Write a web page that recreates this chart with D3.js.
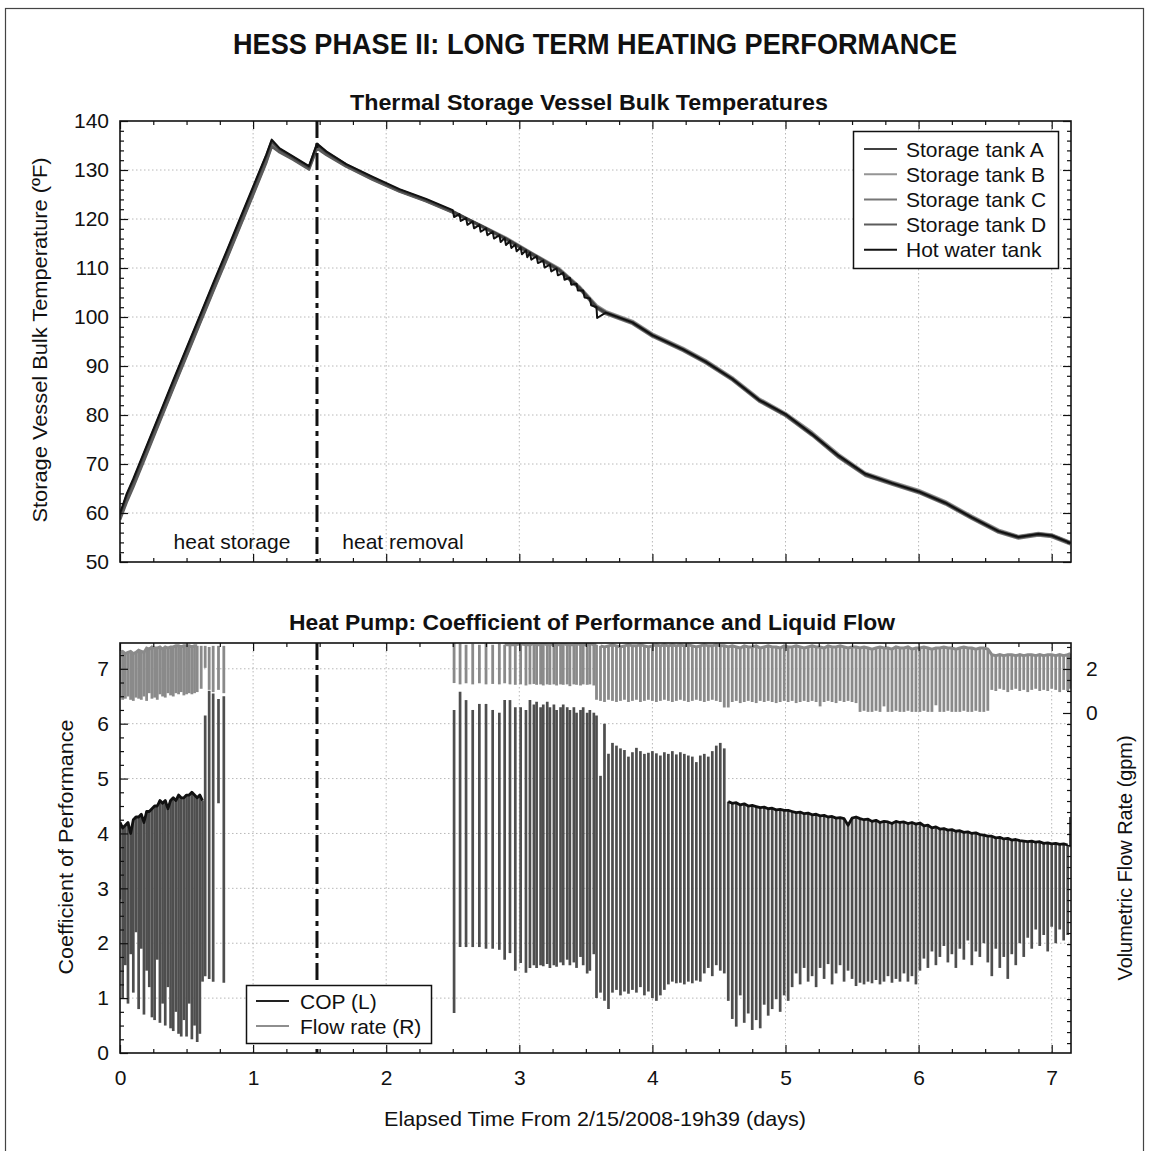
<!DOCTYPE html>
<html>
<head>
<meta charset="utf-8">
<script src="https://cdn.jsdelivr.net/npm/d3@7"></script>
<style>
  body { margin: 0; background: #fff; }
  svg { display: block; font-family: "Liberation Sans", Arial, sans-serif; }
  .tick text { font-size: 21px; fill: #111; }
  .tick line { stroke: #111; stroke-width: 1.2; }
</style>
</head>
<body>
<div id="chart"></div>
<script>
// ---- top panel: storage vessel temperatures (degF) ----
const tempT = [0,0.05,0.1,0.2,0.3,0.4,0.5,0.6,0.7,0.8,
  0.9,1.0,1.1,1.14,1.2,1.3,1.42,1.48,1.55,1.7,
  1.9,2.1,2.3,2.5,2.7,2.9,3.1,3.3,3.45,3.58,
  3.65,3.85,4.0,4.23,4.4,4.6,4.8,5.0,5.2,5.4,
  5.6,5.8,6.0,6.2,6.4,6.6,6.75,6.9,7.0,7.14];
const tankA = [59.6,63.5,66.6,73.3,80.0,86.7,93.3,99.9,106.5,113.0,
  119.6,126.2,132.9,135.9,134.2,132.6,130.6,135.2,133.6,131.1,
  128.4,125.9,123.9,121.6,118.8,116.0,112.8,109.6,106.0,102.0,
  100.8,98.8,96.2,93.3,90.8,87.3,83.0,80.0,76.0,71.5,
  67.8,66.0,64.3,62.0,59.0,56.2,55.0,55.6,55.3,53.8];
const tankB = [58.9,62.6,65.7,72.3,79.0,85.6,92.2,98.8,105.4,111.9,
  118.5,125.1,131.8,135.0,133.8,132.3,130.3,134.6,133.3,130.8,
  128.1,125.7,123.7,121.4,118.9,116.2,113.0,109.9,106.3,102.4,
  101.2,99.2,96.6,93.7,91.2,87.7,83.4,80.4,76.5,72.0,
  68.2,66.4,64.7,62.4,59.4,56.6,55.3,55.9,55.6,54.1];
const tankC = [59.2,63.0,66.1,72.8,79.5,86.2,92.8,99.4,106.0,112.5,
  119.1,125.7,132.4,135.5,133.9,132.4,130.4,134.9,133.4,130.9,
  128.2,125.7,123.7,121.4,118.6,115.8,112.6,109.4,105.8,101.8,
  100.6,98.6,96.0,93.1,90.6,87.1,82.8,79.8,75.8,71.3,
  67.6,65.8,64.1,61.8,58.8,56.0,54.8,55.4,55.1,53.6];
const tankD = [58.6,62.2,65.3,72.0,78.7,85.4,92.0,98.6,105.2,111.7,
  118.3,124.9,131.6,134.8,133.6,132.1,130.1,134.4,133.1,130.7,
  128.0,125.6,123.6,121.3,118.8,116.0,112.9,109.7,106.1,102.1,
  101.0,99.0,96.4,93.5,91.0,87.5,83.2,80.2,76.2,71.7,
  68.0,66.2,64.5,62.2,59.2,56.4,55.2,55.8,55.5,54.0];
const hotT = [0,0.05,0.1,0.2,0.3,0.4,0.5,0.6,0.7,0.8,
  0.9,1.0,1.1,1.14,1.2,1.3,1.42,1.48,1.55,1.7,1.9,2.1,2.3,
  2.50,2.51,2.55,2.56,2.60,2.61,2.65,2.66,2.70,2.71,2.75,2.76,2.80,2.81,2.85,2.86,
  2.89,2.90,2.93,2.94,2.97,2.98,3.01,3.02,3.05,3.06,3.08,3.09,3.13,3.14,3.18,3.19,
  3.23,3.24,3.28,3.29,3.33,3.34,3.38,3.39,3.43,3.44,3.48,3.49,3.53,3.54,3.58,3.585,3.65,
  3.85,4.0,4.23,4.4,4.6,4.8,5.0,5.2,5.4,5.6,
  5.8,6.0,6.2,6.4,6.6,6.75,6.9,7.0,7.14];
const hotV = [59.9,63.9,67.0,73.7,80.4,87.1,93.7,100.3,106.9,113.4,
  120.0,126.6,133.2,136.2,134.4,132.8,130.8,135.4,133.8,131.2,128.6,126.1,124.1,
  121.8,120.4,121.0,119.6,120.2,118.8,119.5,118.1,118.8,117.4,118.1,116.7,117.4,116.0,116.7,115.3,
  116.1,114.7,115.5,114.1,114.8,113.4,114.2,112.8,113.6,112.2,113.1,111.7,112.4,111.0,111.5,110.1,
  110.7,109.3,109.9,108.5,109.0,107.6,108.0,106.6,106.8,105.4,105.4,104.0,103.8,102.4,102.0,99.8,100.9,
  98.9,96.3,93.4,90.9,87.4,83.1,80.2,76.1,71.7,68.0,
  66.1,64.4,62.1,59.1,56.3,55.1,55.7,55.4,53.9];
const tankNames = ["Storage tank A", "Storage tank B", "Storage tank C", "Storage tank D", "Hot water tank"];
const phaseSwitch = 1.48;

// ---- bottom panel: heat pump COP (left) and flow rate (right), per on-cycle ----
const copAT = [0.00,0.02,0.04,0.06,0.08,0.10,0.12,0.14,0.16,0.18,
  0.20,0.22,0.24,0.26,0.28,0.30,0.32,0.34,0.36,0.38,
  0.40,0.42,0.44,0.46,0.48,0.50,0.52,0.54,0.56,0.58,
  0.60,0.62,0.64,0.67,0.70,0.74,0.78];
const copAHi = [4.20,4.10,4.15,4.20,4.00,4.25,4.30,4.30,4.35,4.20,
  4.40,4.40,4.45,4.50,4.50,4.60,4.55,4.60,4.45,4.60,
  4.65,4.60,4.70,4.65,4.65,4.70,4.70,4.75,4.70,4.65,
  4.70,4.60,6.15,6.60,6.55,6.45,6.50];
const copALo = [2.80,1.00,1.60,0.90,1.80,1.10,2.20,0.80,1.90,0.70,
  1.50,1.20,0.65,0.60,1.70,0.55,0.90,0.50,1.20,0.45,
  0.40,0.75,0.35,0.30,0.60,0.30,0.90,0.25,0.50,0.20,
  0.35,1.30,1.40,1.35,1.30,4.55,1.28];

const copCT = [2.51,2.555,2.60,2.65,2.70,2.75,2.80,2.85,2.89,2.93,
  2.97,3.01,3.05,3.08,3.11,3.13,3.16,3.18,3.21,3.23,
  3.26,3.28,3.31,3.33,3.36,3.38,3.41,3.43,3.46,3.48,
  3.51,3.53,3.56,3.58];
const copCHi = [6.25,6.58,6.43,6.25,6.36,6.36,6.25,6.20,6.43,6.43,
  6.30,6.30,6.25,6.43,6.35,6.40,6.30,6.35,6.40,6.30,
  6.35,6.25,6.30,6.35,6.30,6.25,6.30,6.20,6.25,6.30,
  6.20,6.25,6.20,6.15];
const copCLo = [0.73,1.93,1.93,1.93,1.93,1.90,1.90,1.88,1.70,1.82,
  1.50,1.64,1.46,1.55,1.60,1.55,1.60,1.58,1.62,1.55,
  1.60,1.57,1.65,1.60,1.70,1.60,1.65,1.55,1.75,1.60,
  1.45,1.50,1.80,1.00];

const copDT = [3.61,3.64,3.67,3.70,3.73,3.76,3.79,3.82,3.85,3.88,
  3.91,3.94,3.97,4.00,4.03,4.06,4.09,4.12,4.15,4.18,
  4.21,4.24,4.27,4.30,4.33,4.36,4.39,4.42,4.45,4.48,
  4.51,4.54];
const copDHi = [5.05,6.00,5.45,5.65,5.60,5.55,5.52,5.40,5.48,5.56,
  5.50,5.45,5.47,5.50,5.46,5.42,5.48,5.45,5.50,5.44,
  5.48,5.45,5.42,5.40,5.30,5.42,5.45,5.40,5.50,5.60,
  5.65,5.55];
const copDLo = [1.10,0.95,0.80,1.10,1.15,1.05,1.12,1.08,1.15,1.10,
  1.20,1.05,1.12,1.00,0.95,1.05,1.15,1.25,1.30,1.27,
  1.28,1.25,1.30,1.27,1.32,1.30,1.45,1.55,1.40,1.60,
  1.50,1.45];

const copET = [4.57,4.60,4.63,4.66,4.69,4.72,4.75,4.78,4.81,4.84,
  4.87,4.90,4.93,4.96,4.99,5.02,5.05,5.08,5.11,5.14,
  5.17,5.20,5.23,5.26,5.29,5.32,5.35,5.38,5.41,5.44,
  5.47,5.50,5.53,5.56,5.59,5.62,5.65,5.68,5.71,5.74,
  5.77,5.80,5.83,5.86,5.89,5.92,5.95,5.98,6.01,6.04,
  6.07,6.10,6.13,6.16,6.19,6.22,6.25,6.28,6.31,6.34,
  6.37,6.40,6.43,6.46,6.49,6.52,6.55,6.58,6.61,6.64,
  6.67,6.70,6.73,6.76,6.79,6.82,6.85,6.88,6.91,6.94,
  6.97,7.00,7.03,7.06,7.09,7.12,7.14];
const copEHi = [4.58,4.55,4.56,4.52,4.54,4.50,4.51,4.49,4.47,4.48,
  4.45,4.46,4.43,4.44,4.42,4.42,4.40,4.38,4.39,4.36,
  4.37,4.34,4.35,4.32,4.33,4.30,4.31,4.28,4.29,4.27,
  4.15,4.28,4.30,4.27,4.25,4.26,4.22,4.24,4.20,4.22,
  4.21,4.18,4.22,4.20,4.21,4.18,4.20,4.17,4.19,4.14,
  4.15,4.10,4.12,4.08,4.09,4.06,4.07,4.04,4.05,4.02,
  4.03,4.00,4.01,3.98,3.97,3.95,3.95,3.92,3.93,3.90,
  3.91,3.88,3.89,3.87,3.86,3.85,3.86,3.84,3.85,3.82,
  3.83,3.81,3.82,3.80,3.81,3.79,4.30];
const copELo = [0.95,0.62,0.48,1.05,0.55,0.72,0.42,0.60,0.45,0.88,
  0.68,0.80,0.98,0.75,1.05,0.95,1.20,1.45,1.25,1.55,
  1.30,1.40,1.20,1.55,1.35,1.62,1.25,1.45,1.60,1.30,
  1.50,1.35,1.22,1.28,1.25,1.30,1.27,1.33,1.25,1.30,
  1.40,1.28,1.35,1.30,1.45,1.30,1.40,1.25,1.50,1.72,
  1.55,1.85,1.60,1.75,1.95,1.65,1.80,1.55,1.90,1.70,
  2.05,1.60,1.85,1.75,2.00,1.65,1.40,1.90,1.55,1.75,
  1.35,1.80,1.60,2.00,1.75,2.10,1.90,2.25,1.95,2.15,
  1.85,2.30,2.00,2.25,2.05,2.15,3.75];

// flow rate (gpm); sections C, D, E share the cycle times of the COP sections
const flowAT = [0.00,0.02,0.04,0.06,0.08,0.10,0.12,0.14,0.16,0.18,
  0.20,0.22,0.24,0.26,0.28,0.30,0.32,0.34,0.36,0.38,
  0.40,0.42,0.44,0.46,0.48,0.50,0.52,0.54,0.56,0.58,
  0.61,0.64,0.67,0.70,0.74,0.78];
const flowAHi = [2.75,2.80,2.70,2.75,2.80,2.70,2.75,2.85,2.80,2.75,
  2.95,2.90,3.00,2.95,2.95,3.00,2.90,3.00,2.95,3.00,
  3.00,3.05,3.05,3.00,3.05,3.05,3.05,3.00,3.05,3.05,
  3.05,3.05,3.00,3.05,3.05,3.05];
const flowALo = [0.70,0.60,0.65,0.75,0.60,0.55,0.70,0.65,0.60,0.75,
  0.55,0.90,0.65,0.70,0.60,0.85,0.75,0.70,0.90,0.80,
  0.75,0.90,0.85,0.95,0.80,0.85,0.90,0.85,0.90,0.95,
  1.10,2.05,1.05,0.95,1.05,0.90];
const flowCHi = [3.20,3.15,3.10,3.15,3.10,3.15,3.10,3.15,3.10,3.10,
  3.10,3.15,3.10,3.10,3.15,3.10,3.10,3.15,3.10,3.10,
  3.15,3.10,3.10,3.15,3.10,3.10,3.10,3.15,3.10,3.10,
  3.10,3.15,3.10,3.10];
const flowCLo = [1.36,1.30,1.35,1.30,1.35,1.30,1.32,1.30,1.35,1.30,
  1.28,1.30,1.25,1.30,1.32,1.28,1.30,1.25,1.30,1.28,
  1.30,1.25,1.30,1.28,1.30,1.22,1.30,1.28,1.25,1.30,
  1.28,1.30,1.25,0.60];
const flowDHi = [3.05,3.00,3.05,3.10,3.05,3.00,3.05,3.10,3.05,3.05,
  3.10,3.05,3.00,3.05,3.10,3.05,3.10,3.05,3.10,3.05,
  3.10,3.05,3.10,3.05,3.00,3.05,3.10,3.05,3.05,3.10,
  3.05,3.05];
const flowDLo = [0.55,0.50,0.60,0.55,0.50,0.55,0.60,0.50,0.55,0.60,
  0.50,0.55,0.60,0.55,0.50,0.55,0.60,0.55,0.50,0.55,
  0.60,0.55,0.50,0.55,0.60,0.55,0.50,0.55,0.60,0.55,
  0.50,0.25];
const flowEHi = [3.00,3.05,3.00,2.95,3.05,3.00,3.00,3.05,2.95,3.00,
  3.05,3.00,3.00,2.95,3.05,3.00,3.00,3.05,3.00,2.95,
  3.00,3.05,3.00,3.00,2.95,3.05,3.00,3.00,3.05,3.00,
  2.95,3.00,3.00,
  2.95,3.00,2.95,2.90,2.95,3.00,2.95,2.95,2.90,3.00,
  2.95,2.95,3.00,2.90,2.95,2.95,3.00,2.95,2.90,2.95,
  2.95,3.00,2.95,2.95,2.90,2.95,3.00,2.95,2.95,2.90,
  2.95,2.95,2.90,
  2.65,2.60,2.65,2.60,2.65,2.65,2.60,2.65,2.60,2.65,
  2.65,2.60,2.65,2.60,2.65,2.65,2.60,2.65,2.60,2.65,
  2.70];
const flowELo = [0.25,0.50,0.55,0.45,0.50,0.55,0.50,0.45,0.55,0.50,
  0.55,0.50,0.45,0.50,0.55,0.50,0.55,0.45,0.50,0.55,
  0.50,0.55,0.50,0.30,0.50,0.55,0.50,0.45,0.55,0.50,
  0.55,0.50,0.45,
  0.05,0.10,0.05,0.05,0.10,0.05,0.30,0.05,0.05,0.10,
  0.05,0.05,0.10,0.05,0.05,0.05,0.10,0.05,0.05,0.35,
  0.05,0.05,0.10,0.05,0.05,0.05,0.10,0.05,0.05,0.10,
  0.05,0.05,0.10,
  1.05,1.00,1.10,1.05,0.95,1.05,1.10,1.00,1.05,0.95,
  1.05,1.10,1.00,1.05,1.00,1.10,1.05,0.95,1.05,1.00,
  1.10];

// stretches where the unit ran continuously (tops joined)
const copRuns = [[0, 0.62], [4.57, 7.12]];
const flowRuns = [[0, 0.58], [2.89, 3.58], [3.61, 7.14]];

const xMajor = [0, 1, 2, 3, 4, 5, 6, 7];
const tempMajor = [50, 60, 70, 80, 90, 100, 110, 120, 130, 140];
const copMajor = [0, 1, 2, 3, 4, 5, 6, 7];
const flowLabels = [0, 2];

// ---------------------------------------------------------------
const width = 1152, height = 1151;
const left = 120, right = 1071;
const topPanel = { top: 121, bottom: 562 };
const botPanel = { top: 643, bottom: 1053 };

const x = d3.scaleLinear([0, 7.145], [left, right]);
const yTemp = d3.scaleLinear([50, 140], [topPanel.bottom, topPanel.top]);
const yCop = d3.scaleLinear([0, 7.47], [botPanel.bottom, botPanel.top]);
const yFlow = d3.scaleLinear([-15.45, 3.18], [botPanel.bottom, botPanel.top]);

const svg = d3.create('svg')
  .attr('width', width)
  .attr('height', height)
  .attr('viewBox', [0, 0, width, height]);

svg.append('rect').attr('width', width).attr('height', height).attr('fill', '#fff');
svg.append('rect')
  .attr('x', 5.5).attr('y', 8.5).attr('width', 1138).attr('height', 1160)
  .attr('fill', 'none').attr('stroke', '#444').attr('stroke-width', 1.2);

const defs = svg.append('defs');
[['clipTop', topPanel], ['clipBot', botPanel]].forEach(function ([id, p]) {
  defs.append('clipPath').attr('id', id)
    .append('rect').attr('x', left).attr('y', p.top)
    .attr('width', right - left).attr('height', p.bottom - p.top);
});

function grid(panel, yScale, yValues) {
  const g = svg.append('g')
    .attr('stroke', '#b8b8b8').attr('stroke-width', 1).attr('stroke-dasharray', '1.5,2.5');
  g.selectAll('line.v').data(xMajor.filter(d => d > 0)).join('line')
    .attr('x1', d => x(d)).attr('x2', d => x(d))
    .attr('y1', panel.top).attr('y2', panel.bottom);
  g.selectAll('line.h').data(yValues).join('line')
    .attr('x1', left).attr('x2', right)
    .attr('y1', d => yScale(d)).attr('y2', d => yScale(d));
}

function ticks(panel, axes) {
  const g = svg.append('g');
  axes.forEach(function ([axis, tx, ty]) {
    g.append('g').attr('transform', `translate(${tx},${ty})`)
      .call(axis)
      .call(s => s.select('.domain').remove());
  });
  svg.append('rect')
    .attr('x', left).attr('y', panel.top)
    .attr('width', right - left).attr('height', panel.bottom - panel.top)
    .attr('fill', 'none').attr('stroke', '#111').attr('stroke-width', 1.6);
}

const xMinor = d3.range(0, 7.15, 0.25).filter(d => d % 1 !== 0);
const none = () => '';

// ---- TOP PANEL ----
grid(topPanel, yTemp, tempMajor.slice(1, -1));

const tempColors = ['#404040', '#959595', '#767676', '#5c5c5c', '#111'];
const tempLine = d3.line().x(d => x(d[0])).y(d => yTemp(d[1]));
const tempSeries = [tankA, tankB, tankC, tankD].map(v => tempT.map((t, i) => [t, v[i]]));
tempSeries.push(hotT.map((t, i) => [t, hotV[i]]));

const gTemp = svg.append('g').attr('clip-path', 'url(#clipTop)');
[1, 2, 3, 0, 4].forEach(function (k) {
  gTemp.append('path')
    .attr('d', tempLine(tempSeries[k]))
    .attr('fill', 'none')
    .attr('stroke', tempColors[k])
    .attr('stroke-width', k === 4 ? 2 : 2.6)
    .attr('stroke-linejoin', 'round');
});

ticks(topPanel, [
  [d3.axisBottom(x).tickValues(xMajor).tickSize(-8).tickFormat(none), 0, topPanel.bottom],
  [d3.axisBottom(x).tickValues(xMinor).tickSize(-4).tickFormat(none), 0, topPanel.bottom],
  [d3.axisTop(x).tickValues(xMajor).tickSize(-8).tickFormat(none), 0, topPanel.top],
  [d3.axisTop(x).tickValues(xMinor).tickSize(-4).tickFormat(none), 0, topPanel.top],
  [d3.axisLeft(yTemp).tickValues(tempMajor).tickSize(-8).tickPadding(11), left, 0],
  [d3.axisLeft(yTemp).tickValues(d3.range(52, 140, 2).filter(d => d % 10)).tickSize(-4).tickFormat(none), left, 0],
  [d3.axisRight(yTemp).tickValues(tempMajor).tickSize(-8).tickFormat(none), right, 0],
  [d3.axisRight(yTemp).tickValues(d3.range(52, 140, 2).filter(d => d % 10)).tickSize(-4).tickFormat(none), right, 0]
]);

// legend
const legT = svg.append('g');
legT.append('rect').attr('x', 853.5).attr('y', 131.5).attr('width', 205).attr('height', 137)
  .attr('fill', '#fff').attr('stroke', '#111').attr('stroke-width', 1.5);
tankNames.forEach(function (name, i) {
  const yy = 149 + i * 25.2;
  legT.append('line').attr('x1', 864).attr('x2', 897).attr('y1', yy).attr('y2', yy)
    .attr('stroke', tempColors[i]).attr('stroke-width', 2);
  legT.append('text').attr('x', 906).attr('y', yy).attr('dy', '0.36em')
    .attr('font-size', 21).attr('fill', '#111').text(name);
});

svg.append('text').attr('x', 232).attr('y', 549).attr('text-anchor', 'middle')
  .attr('font-size', 21).attr('fill', '#111').text('heat storage');
svg.append('text').attr('x', 403).attr('y', 549).attr('text-anchor', 'middle')
  .attr('font-size', 21).attr('fill', '#111').text('heat removal');

// ---- BOTTOM PANEL ----
grid(botPanel, yCop, copMajor.slice(1));

function cycles(t, hi, lo) {
  return t.map((d, i) => ({ t: d, hi: hi[i], lo: lo[i] }));
}
const copCycles = [].concat(
  cycles(copAT, copAHi, copALo), cycles(copCT, copCHi, copCLo),
  cycles(copDT, copDHi, copDLo), cycles(copET, copEHi, copELo));
const flowCycles = [].concat(
  cycles(flowAT, flowAHi, flowALo), cycles(copCT, flowCHi, flowCLo),
  cycles(copDT, flowDHi, flowDLo), cycles(copET, flowEHi, flowELo));

function inRuns(list, runs) {
  return runs.map(([a, b]) => list.filter(c => c.t >= a - 1e-9 && c.t <= b + 1e-9));
}

const gBot = svg.append('g').attr('clip-path', 'url(#clipBot)');

const flowTop = d3.line().x(c => x(c.t)).y(c => yFlow(c.hi));
gBot.append('g').selectAll('line').data(flowCycles).join('line')
  .attr('x1', c => x(c.t)).attr('x2', c => x(c.t))
  .attr('y1', c => yFlow(c.lo)).attr('y2', c => yFlow(c.hi))
  .attr('stroke', '#8a8a8a').attr('stroke-width', 2.8);
inRuns(flowCycles, flowRuns).forEach(function (run) {
  gBot.append('path').attr('d', flowTop(run)).attr('fill', 'none')
    .attr('stroke', '#8a8a8a').attr('stroke-width', 3);
});

const copTop = d3.line().x(c => x(c.t)).y(c => yCop(c.hi));
gBot.append('g').selectAll('line').data(copCycles).join('line')
  .attr('x1', c => x(c.t)).attr('x2', c => x(c.t))
  .attr('y1', c => yCop(c.lo)).attr('y2', c => yCop(c.hi))
  .attr('stroke', '#4e4e4e').attr('stroke-width', 2.7);
inRuns(copCycles, copRuns).forEach(function (run) {
  gBot.append('path').attr('d', copTop(run)).attr('fill', 'none')
    .attr('stroke', '#111').attr('stroke-width', 2.8).attr('stroke-linejoin', 'round');
});

ticks(botPanel, [
  [d3.axisBottom(x).tickValues(xMajor).tickSize(-8).tickPadding(17).tickFormat(d3.format('d')), 0, botPanel.bottom],
  [d3.axisBottom(x).tickValues(xMinor).tickSize(-4).tickFormat(none), 0, botPanel.bottom],
  [d3.axisTop(x).tickValues(xMajor).tickSize(-8).tickFormat(none), 0, botPanel.top],
  [d3.axisTop(x).tickValues(xMinor).tickSize(-4).tickFormat(none), 0, botPanel.top],
  [d3.axisLeft(yCop).tickValues(copMajor).tickSize(-8).tickPadding(11), left, 0],
  [d3.axisLeft(yCop).tickValues(d3.range(0.25, 7.4, 0.25).filter(d => d % 1)).tickSize(-4).tickFormat(none), left, 0],
  [d3.axisRight(yFlow).tickValues(flowLabels).tickSize(-8).tickPadding(15), right, 0],
  [d3.axisRight(yFlow).tickValues(d3.range(-15, 3.1, 0.5).filter(d => d !== 0 && d !== 2)).tickSize(-4).tickFormat(none), right, 0]
]);

// phase switch line across both panels
[topPanel, botPanel].forEach(function (p) {
  svg.append('line')
    .attr('x1', x(phaseSwitch)).attr('x2', x(phaseSwitch))
    .attr('y1', p.top).attr('y2', p.bottom)
    .attr('stroke', '#111').attr('stroke-width', 3)
    .attr('stroke-dasharray', '17,5,5,5');
});

// legend
const legB = svg.append('g');
legB.append('rect').attr('x', 246.5).attr('y', 985.5).attr('width', 185).attr('height', 58)
  .attr('fill', '#fff').attr('stroke', '#111').attr('stroke-width', 1.5);
[['COP (L)', '#222'], ['Flow rate (R)', '#8e8e8e']].forEach(function ([name, col], i) {
  const yy = 1001 + i * 25;
  legB.append('line').attr('x1', 256).attr('x2', 289).attr('y1', yy).attr('y2', yy)
    .attr('stroke', col).attr('stroke-width', 2);
  legB.append('text').attr('x', 300).attr('y', yy).attr('dy', '0.36em')
    .attr('font-size', 21).attr('fill', '#111').text(name);
});

// ---- titles ----
function label(txt, cx, cy, size, len, opts) {
  const o = opts || {};
  const t = svg.append('text')
    .attr('text-anchor', 'middle')
    .attr('font-size', size)
    .attr('font-weight', o.bold ? 'bold' : 'normal')
    .attr('fill', '#111')
    .attr('textLength', len)
    .attr('lengthAdjust', 'spacingAndGlyphs')
    .text(txt);
  if (o.rotate) {
    t.attr('transform', `translate(${cx},${cy}) rotate(-90)`).attr('dy', '0.35em');
  } else {
    t.attr('x', cx).attr('y', cy);
  }
}
label('HESS PHASE II: LONG TERM HEATING PERFORMANCE', 595, 54, 29, 724, { bold: true });
label('Thermal Storage Vessel Bulk Temperatures', 589, 110, 22, 478, { bold: true });
label('Heat Pump: Coefficient of Performance and Liquid Flow', 592, 630, 22, 606, { bold: true });
label('Elapsed Time From 2/15/2008-19h39 (days)', 595, 1126, 21, 422);
label('Storage Vessel Bulk Temperature (\u00baF)', 40, 340, 21, 365, { rotate: true });
label('Coefficient of Performance', 66, 847, 21, 255, { rotate: true });
label('Volumetric Flow Rate (gpm)', 1125, 858, 21, 245, { rotate: true });

d3.select('#chart').node().appendChild(svg.node());
</script>
</body>
</html>
